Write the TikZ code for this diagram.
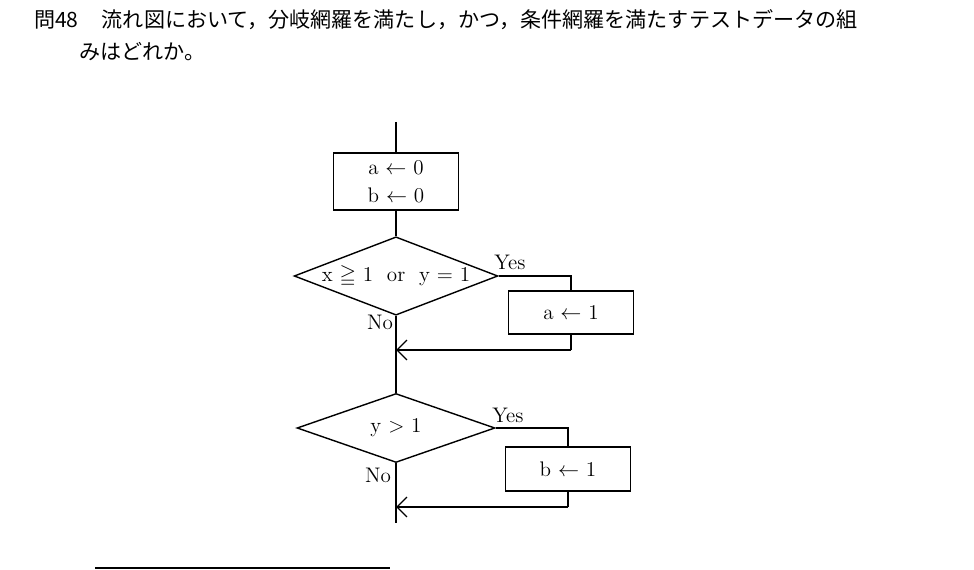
\documentclass[tikz,border=0pt]{standalone}
\usepackage{amssymb}
\usepackage{fontspec}
\newfontfamily\cjk{Noto Sans CJK JP}
\usetikzlibrary{shapes.geometric,arrows.meta}
\begin{document}
\begin{tikzpicture}[x=0.02cm,y=-0.02cm,
  box/.style={draw,thick,minimum width=2.5cm,inner sep=0pt,align=center,font=\large},
  dia/.style={draw,thick,diamond,aspect=2.6,minimum width=3.96cm,minimum height=1.5cm,inner sep=0pt,font=\large},
  ln/.style={thick},
  arr/.style={thick,-{Straight Barb[length=2mm]}},
  lbl/.style={font=\large}]
\useasboundingbox (0,0) rectangle (974,570);
\node[anchor=west,font=\cjk\large] (q) at (28,20) {問48\hspace{1.1em}流れ図において，分岐網羅を満たし，かつ，条件網羅を満たすテストデータの組};
\node[anchor=west,font=\cjk\large] (q2) at (73,52) {みはどれか。};
\coordinate (top) at (396,122);
\node[box,minimum height=1.14cm] (b1) at (396,181.5) {a $\leftarrow$ 0\\[2pt] b $\leftarrow$ 0};
\node[dia] (d1) at (396,276) {x $\geqq$ 1 \ or \ y = 1};
\node[box,minimum height=0.86cm] (b2) at (571,312.5) {a $\leftarrow$ 1};
\coordinate (r1) at (571,276);
\coordinate (m1) at (571,350);
\coordinate (j1) at (396,350);
\node[dia,minimum height=1.38cm] (d2) at (396,428) {y $>$ 1};
\node[box,minimum height=0.88cm] (b3) at (568,469) {b $\leftarrow$ 1};
\coordinate (r2) at (568,428);
\coordinate (m2) at (568,507);
\coordinate (j2) at (396,507);
\coordinate (end) at (396,523);
\draw[ln] (top) -- (b1.north);
\draw[ln] (b1.south) -- (d1.north);
\draw[ln] (d1.east) -- (r1) -- (b2.north);
\draw[ln] (b2.south) -- (m1);
\draw[arr] (m1) -- (j1);
\draw[ln] (d1.south) -- (d2.north);
\draw[ln] (d2.east) -- (r2) -- (b3.north);
\draw[ln] (b3.south) -- (m2);
\draw[arr] (m2) -- (j2);
\draw[ln] (d2.south) -- (end);
\node[lbl] (y1) at (510,262) {Yes};
\node[lbl] (n1) at (380,322) {No};
\node[lbl] (y2) at (508,415) {Yes};
\node[lbl] (n2) at (378,475) {No};
\coordinate (h1) at (95,568);
\coordinate (h2) at (390,568);
\draw[ln] (h1) -- (h2);
\end{tikzpicture}
\end{document}
